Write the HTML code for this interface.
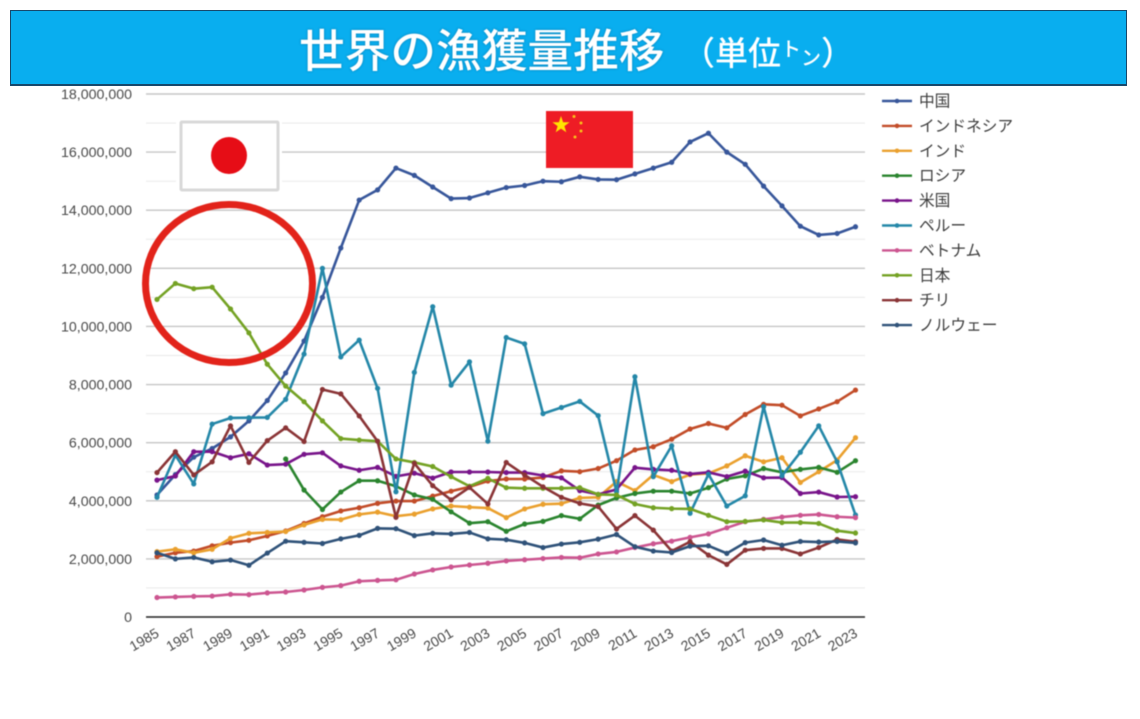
<!DOCTYPE html>
<html lang="ja">
<head>
<meta charset="utf-8">
<title>世界の漁獲量推移</title>
<style>
  html,body{margin:0;padding:0;background:#fff;}
  #stage{position:relative;width:1140px;height:719px;overflow:hidden;background:#fff;
    font-family:"Liberation Sans","Noto Sans CJK JP",sans-serif;}
  #banner{position:absolute;left:10px;top:10px;width:1115px;height:73px;background:#09aeef;border:1px solid #17486b;box-shadow:0 1px 0 #17486b;}
  #title{position:absolute;left:299px;top:19px;white-space:nowrap;color:#fff;font-size:45.7px;line-height:66px;font-weight:500;
    font-family:"Liberation Sans","Noto Sans CJK JP",sans-serif;text-shadow:0 0 2px rgba(10,70,110,.55);filter:blur(.4px);}
  #unit{position:absolute;left:682px;top:31px;white-space:nowrap;color:#fff;font-size:33px;line-height:46px;font-weight:500;
    font-family:"Liberation Sans","Noto Sans CJK JP",sans-serif;filter:blur(.4px);}
  #unit small{font-size:20px;position:relative;top:-9px;}
  #unit small+small{top:0;}
  #chart{position:absolute;left:0;top:0;filter:blur(.6px);}
</style>
</head>
<body>
<div id="stage">
  <svg id="chart" width="1140" height="719" viewBox="0 0 1140 719" xmlns="http://www.w3.org/2000/svg">
    <g id="grid"></g>
    <g id="yticks"></g>
    <g id="xticks"></g>
    <g id="japan-flag">
      <rect x="176" y="118" width="106" height="76" fill="#fff"/>
      <rect x="181" y="122" width="97" height="68" fill="#fff" stroke="#d8d8d8" stroke-width="3" rx="1"/>
      <ellipse cx="229" cy="155.500" rx="18" ry="18.500" fill="#e60d16"/>
    </g>
    <g id="series"></g>
    <g id="china-flag">
      <rect x="546" y="111" width="87" height="57" fill="#ee1c25"/>
      <polygon points="561,116 563.100,122.200 569.600,122.200 564.400,126.100 566.300,132.300 561,128.600 555.700,132.300 557.600,126.100 552.400,122.200 558.900,122.200" fill="#ffe600"/>
      <circle cx="574" cy="116.500" r="1.500" fill="#f6c21a"/>
      <circle cx="581" cy="123" r="1.500" fill="#f6c21a"/>
      <circle cx="581" cy="131" r="1.500" fill="#f6c21a"/>
      <circle cx="575" cy="137" r="1.500" fill="#f6c21a"/>
    </g>
    <ellipse cx="229" cy="283.500" rx="83.500" ry="79" fill="none" stroke="#e2231a" stroke-width="7"/>
    <g id="legend"></g>
  </svg>
  <div id="banner"></div>
  <div id="title">世界の漁獲量推移</div>
  <div id="unit">（単位<small>ト</small><small>ン</small>）</div>
</div>
<script>
const years = [1985,1986,1987,1988,1989,1990,1991,1992,1993,1994,1995,1996,1997,1998,1999,2000,2001,2002,2003,2004,2005,2006,2007,2008,2009,2010,2011,2012,2013,2014,2015,2016,2017,2018,2019,2020,2021,2022,2023];
const xTickLabels = ["1985","1987","1989","1991","1993","1995","1997","1999","2001","2003","2005","2007","2009","2011","2013","2015","2017","2019","2021","2023"];
const yTickValues = [0,2000000,4000000,6000000,8000000,10000000,12000000,14000000,16000000,18000000];
const yMinorValues = [1000000,3000000,5000000,7000000,9000000,11000000,13000000,15000000,17000000];
const seriesNames = ["中国","インドネシア","インド","ロシア","米国","ペルー","ベトナム","日本","チリ","ノルウェー"];
const seriesColors = ["#37569a","#c24c28","#eaa02e","#2a842e","#78148a","#2487a8","#cc5590","#74a224","#8a3436","#2f5279"];
const china = [4.2,4.9,5.5,5.8,6.2,6.75,7.45,8.4,9.5,11.0,12.7,14.35,14.7,15.45,15.2,14.8,14.4,14.42,14.6,14.78,14.85,15.0,14.98,15.15,15.06,15.05,15.25,15.45,15.65,16.35,16.65,16.0,15.58,14.83,14.15,13.45,13.15,13.2,13.43];
const indonesia = [2.08,2.21,2.27,2.45,2.56,2.64,2.79,2.96,3.22,3.45,3.65,3.76,3.91,3.99,3.99,4.16,4.33,4.48,4.68,4.75,4.75,4.8,5.03,5.0,5.11,5.38,5.75,5.86,6.12,6.47,6.66,6.51,6.97,7.32,7.29,6.92,7.16,7.41,7.81];
const india = [2.25,2.33,2.21,2.33,2.71,2.88,2.91,2.94,3.17,3.36,3.35,3.53,3.61,3.47,3.54,3.72,3.82,3.78,3.75,3.42,3.72,3.88,3.9,4.1,4.12,4.66,4.35,4.89,4.66,4.9,4.94,5.2,5.55,5.34,5.48,4.63,5.0,5.4,6.17];
const russia = [null,null,null,null,null,null,null,5.44,4.37,3.7,4.3,4.69,4.69,4.5,4.2,4.05,3.62,3.23,3.28,2.95,3.2,3.29,3.49,3.38,3.85,4.1,4.25,4.33,4.33,4.25,4.45,4.75,4.86,5.11,4.98,5.08,5.15,4.98,5.38];
const usa = [4.71,4.85,5.69,5.69,5.48,5.62,5.23,5.26,5.6,5.65,5.2,5.05,5.15,4.84,4.95,4.78,4.99,4.99,4.99,4.97,4.97,4.87,4.79,4.35,4.22,4.39,5.14,5.08,5.05,4.92,4.98,4.83,5.02,4.79,4.8,4.25,4.3,4.13,4.14];
const peru = [4.12,5.57,4.58,6.64,6.85,6.86,6.87,7.49,9.05,12.0,8.95,9.53,7.87,4.31,8.42,10.68,7.98,8.78,6.05,9.62,9.4,7.0,7.21,7.42,6.93,4.31,8.27,4.83,5.89,3.57,4.91,3.82,4.17,7.24,4.86,5.67,6.58,5.34,3.51];
const vietnam = [0.67,0.69,0.71,0.72,0.78,0.77,0.83,0.86,0.93,1.02,1.08,1.23,1.26,1.28,1.48,1.62,1.72,1.79,1.85,1.93,1.97,2.01,2.05,2.04,2.17,2.24,2.39,2.52,2.61,2.74,2.86,3.07,3.28,3.36,3.44,3.5,3.53,3.45,3.42];
const japan = [10.93,11.48,11.3,11.35,10.6,9.78,8.7,7.95,7.41,6.75,6.14,6.09,6.05,5.44,5.32,5.18,4.83,4.5,4.77,4.45,4.43,4.43,4.43,4.45,4.22,4.2,3.89,3.76,3.73,3.72,3.5,3.28,3.29,3.34,3.25,3.25,3.22,2.97,2.89];
const chile = [4.97,5.69,4.89,5.34,6.58,5.32,6.07,6.51,6.04,7.83,7.68,6.92,6.05,3.43,5.29,4.52,4.03,4.46,3.89,5.32,4.89,4.48,4.12,3.91,3.8,3.03,3.49,2.99,2.27,2.59,2.13,1.81,2.3,2.36,2.36,2.17,2.39,2.67,2.59];
const norway = [2.21,2.0,2.05,1.9,1.96,1.78,2.2,2.61,2.57,2.53,2.69,2.81,3.05,3.04,2.8,2.88,2.86,2.91,2.69,2.66,2.55,2.39,2.51,2.57,2.68,2.84,2.42,2.27,2.22,2.44,2.45,2.19,2.56,2.65,2.47,2.6,2.58,2.6,2.55];
const seriesValues = [china,indonesia,india,russia,usa,peru,vietnam,japan,chile,norway];

const SVG_NS = "http://www.w3.org/2000/svg";
const plotLeft = 146, plotRight = 865, y0px = 617, yTopPx = 94, x0px = 157, xEndPx = 855.5, yMaxValue = 18000000;
function xScale(year){
  return x0px + (year - years[0]) * (xEndPx - x0px) / (years[years.length - 1] - years[0]);
}
function yScale(v){
  return y0px - v * (y0px - yTopPx) / yMaxValue;
}
function svgEl(tag, attrs){
  const el = document.createElementNS(SVG_NS, tag);
  for (const k in attrs) el.setAttribute(k, attrs[k]);
  return el;
}
const gridG = document.getElementById("grid");
yMinorValues.forEach(function(v){
  const ln = svgEl("line", {x1:plotLeft, x2:plotRight, y1:yScale(v), y2:yScale(v), stroke:"#ececec", "stroke-width":1.2});
  
  
  gridG.appendChild(ln);
});
yTickValues.forEach(function(v){
  const ln = svgEl("line", {x1:plotLeft, x2:plotRight, y1:yScale(v), y2:yScale(v), stroke: v === 0 ? "#222" : "#c6c6c6", "stroke-width": v === 0 ? 1.5 : 1.4});
  
  
  gridG.appendChild(ln);
});
const yG = document.getElementById("yticks");
yTickValues.forEach(function(v){
  const t = svgEl("text", {x:132, y:yScale(v) + 5, "text-anchor":"end", "font-size":14.2, fill:"#484848"});
  t.textContent = v.toLocaleString("en-US");
  
  
  yG.appendChild(t);
});
const xG = document.getElementById("xticks");
xTickLabels.forEach(function(label){
  const px = xScale(parseInt(label, 10)) + 3, py = 636;
  const t = svgEl("text", {x:px, y:py, "text-anchor":"end", "font-size":14, fill:"#484848", transform:"rotate(-30 " + px + " " + py + ")"});
  t.textContent = label;
  
  
  xG.appendChild(t);
});
const seriesG = document.getElementById("series");
seriesValues.forEach(function(vals, si){
  const g = svgEl("g", {});
  
  
  let d = "";
  vals.forEach(function(v, i){
    if (v === null) return;
    d += (d ? "L" : "M") + xScale(years[i]).toFixed(2) + " " + yScale(v * 1000000).toFixed(2);
  });
  g.appendChild(svgEl("path", {d:d, fill:"none", stroke:seriesColors[si], "stroke-width":2.6, "stroke-linejoin":"round"}));
  vals.forEach(function(v, i){
    if (v === null) return;
    g.appendChild(svgEl("circle", {cx:xScale(years[i]), cy:yScale(v * 1000000), r:2.6, fill:seriesColors[si]}));
  });
  seriesG.appendChild(g);
});
const legendG = document.getElementById("legend");
seriesNames.forEach(function(name, i){
  const ly = 101 + i * 24.9;
  const g = svgEl("g", {});
  
  
  g.appendChild(svgEl("line", {x1:882, x2:912, y1:ly, y2:ly, stroke:seriesColors[i], "stroke-width":2.4}));
  g.appendChild(svgEl("circle", {cx:897, cy:ly, r:2.3, fill:seriesColors[i]}));
  const t = svgEl("text", {x:919, y:ly + 5.5, "font-size":15.7, fill:"#3c3c3c"});
  t.textContent = name;
  g.appendChild(t);
  legendG.appendChild(g);
});
</script>
</body>
</html>
